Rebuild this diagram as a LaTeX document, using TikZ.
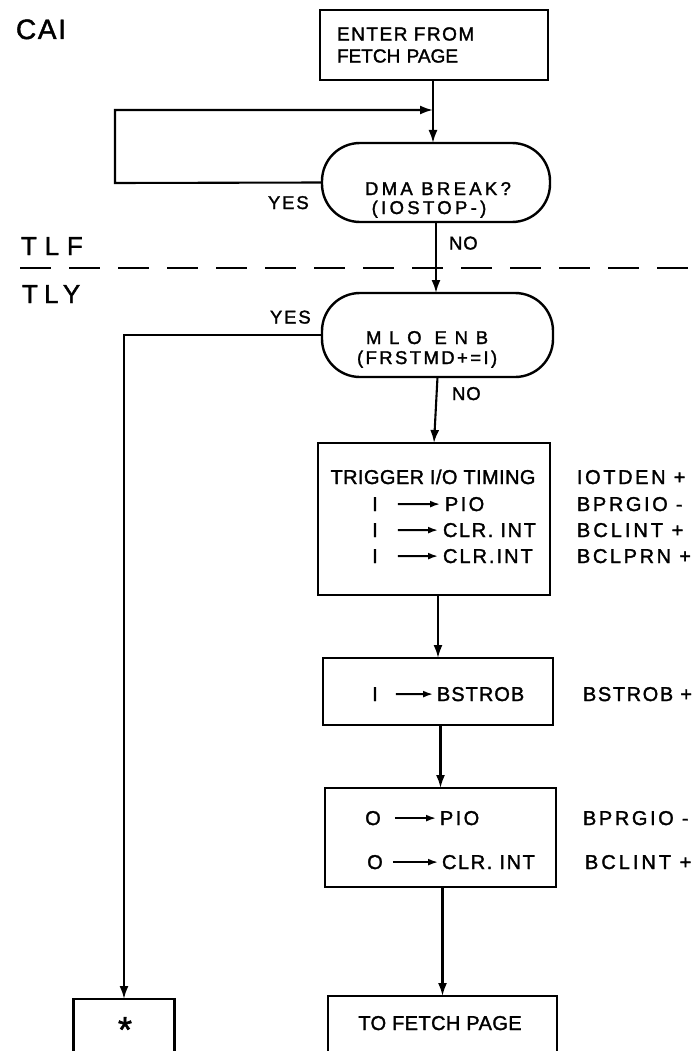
\documentclass[tikz,border=0pt]{standalone}
\usepackage{fontspec}
\setmainfont{Liberation Sans}[FakeBold=1.6]
\usetikzlibrary{arrows.meta}
\newcommand\ls[2]{{\addfontfeature{LetterSpace=#1}#2}}
\begin{document}
\begin{tikzpicture}[x=1pt,y=-1pt,
  every node/.style={inner sep=0pt, outer sep=0pt},
  bx/.style 2 args={draw, line width=2.4pt, minimum width=#1, minimum height=#2},
  pill/.style 2 args={draw, line width=2.4pt, rounded corners=38pt, minimum width=#1, minimum height=#2},
  conn/.style={line width=2.1pt, -{Latex[length=13pt,width=9pt]}},
  small/.style={line width=1.8pt, -{Latex[length=10pt,width=7pt]}},
  tA/.style={font=\fontsize{20}{24}\selectfont, anchor=base},
  tB/.style={font=\fontsize{18.5}{22}\selectfont, anchor=base},
  tC/.style={font=\fontsize{26}{30}\selectfont, anchor=base west},
]
\useasboundingbox (0,0) rectangle (699,1051);
\clip (0,0) rectangle (699,1051);
\fill[white] (0,0) rectangle (699,1051);

% side labels
\node[tC, font=\fontsize{28}{32}\selectfont] (cai) at (16,39) {\ls{6}{CAI}};
\node[tC] (tlf) at (21,255) {\ls{30}{TLF}};
\node[tC] (tly) at (22,303) {\ls{24}{TLY}};
\coordinate (dl) at (20,268);
\coordinate (dr) at (699,268);
\draw[line width=2.4pt, dash pattern=on 31pt off 18pt] (dl) -- (dr);

% enter box
\node[bx={228pt}{70pt}, font=\fontsize{19}{22}\selectfont, text width=194pt, align=left] (enter) at (434,45) {\ls{8}{ENTER FROM}\\FETCH PAGE};
\coordinate (j) at (433,110);
\coordinate (lc) at (115,183);

% DMA pill
\node[pill={228pt}{79pt}] (dma) at (436,182.5) {};
\node[tB] (dmat) at (438,195) {\ls{18}{DMA BREAK?}};
\node[tB] (iost) at (429,214) {\ls{18}{(IOSTOP-)}};
\node[tB, anchor=base west] (yes1) at (268,209) {\ls{10}{YES}};
\node[tB, anchor=base west] (no1) at (449,249.5) {\ls{5}{NO}};

\draw[line width=2.1pt] (enter.south -| j) -- (j);
\draw[conn] (j) -- (j |- dma.north);
\draw[conn] (dma.west) -- (lc) |- (j);

% MLO pill
\node[pill={231pt}{84pt}] (mlo) at (437.5,335) {};
\node[tB, anchor=base west] (mlot) at (366,344) {\ls{42}{MLO ENB}};
\node[tB, anchor=base west] (frst) at (357,364) {\ls{13}{(FRSTMD+=I)}};
\node[tB, anchor=base west] (yes2) at (270,323.5) {\ls{10}{YES}};
\node[tB, anchor=base west] (no2) at (452,400) {\ls{5}{NO}};
\draw[conn] (dma.south) -- (dma.south |- mlo.north);

% trigger box
\node[bx={232pt}{152pt}] (trig) at (434,519) {};
\draw[conn] (mlo.south) -- (trig.north);
\node[tA] (trigt) at (433,484) {\ls{2}{TRIGGER I/O TIMING}};
\node[tA] (r2a) at (375,511) {I};
\node[tA, anchor=base west] (r2b) at (445,511) {\ls{12}{PIO}};
\node[tA] (r3a) at (375,537) {I};
\node[tA, anchor=base west] (r3b) at (443,537) {\ls{8}{CLR. INT}};
\node[tA] (r4a) at (375,563) {I};
\node[tA, anchor=base west] (r4b) at (443,563) {\ls{10}{CLR.INT}};
\draw[small, shorten <=20pt, shorten >=5pt] (r2a.east) -- (r2b.west);
\draw[small, shorten <=20pt, shorten >=5pt] (r3a.east) -- (r3b.west);
\draw[small, shorten <=20pt, shorten >=5pt] (r4a.east) -- (r4b.west);
\node[tA, anchor=base west] (l1) at (577,484) {\ls{13}{IOTDEN +}};
\node[tA, anchor=base west] (l2) at (577,511) {\ls{13}{BPRGIO -}};
\node[tA, anchor=base west] (l3) at (577,537) {\ls{15}{BCLINT +}};
\node[tA, anchor=base west] (l4) at (577,563) {\ls{13}{BCLPRN +}};

% BSTROB box
\node[bx={230pt}{67pt}] (bst) at (438,691.5) {};
\draw[conn] (bst.north |- trig.south) -- (bst.north);
\node[tA] (s1a) at (375,701) {I};
\node[tA, anchor=base west] (s1b) at (437,701) {\ls{5}{BSTROB}};
\draw[small, shorten <=18pt, shorten >=4pt] (s1a.east) -- (s1b.west);
\node[tA, anchor=base west] (l5) at (583,701) {\ls{8}{BSTROB +}};

% box 3
\node[bx={231pt}{99pt}] (b3) at (440.5,837.5) {};
\draw[conn] (b3.north |- bst.south) -- (b3.north);
\node[tA] (o1a) at (373,825) {O};
\node[tA, anchor=base west] (o1b) at (440,825) {\ls{12}{PIO}};
\node[tA] (o2a) at (375,869) {O};
\node[tA, anchor=base west] (o2b) at (442,869) {\ls{8}{CLR. INT}};
\draw[small, shorten <=14pt, shorten >=4pt] (o1a.east) -- (o1b.west);
\draw[small, shorten <=10pt, shorten >=4pt] (o2a.east) -- (o2b.west);
\node[tA, anchor=base west] (l6) at (583,825) {\ls{13}{BPRGIO -}};
\node[tA, anchor=base west] (l7) at (585,869) {\ls{15}{BCLINT +}};

% bottom boxes
\node[bx={229pt}{110pt}] (tof) at (442.5,1051) {};
\draw[conn] (tof.north |- b3.south) -- (tof.north);
\node[tA] (toft) at (440,1030) {\ls{2}{TO FETCH PAGE}};
\node[bx={101pt}{110pt}] (star) at (124,1054) {};
\node[font=\fontsize{36}{40}\selectfont, anchor=base] (ast) at (125,1042) {*};
\draw[conn] (mlo.west) -| (star.north);
\end{tikzpicture}
\end{document}
